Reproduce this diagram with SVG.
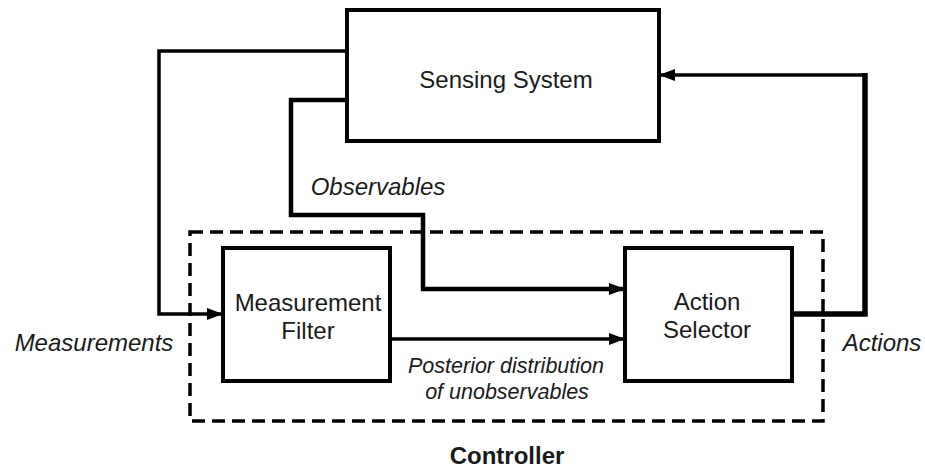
<svg xmlns="http://www.w3.org/2000/svg" width="925" height="470" viewBox="0 0 925 470">
<defs>
<style>
.box{fill:#fff;stroke:#000;stroke-width:4}
.t{font-family:"Liberation Sans",Arial,sans-serif;font-size:24px;fill:#1a1a1a;text-anchor:middle}
.i{font-style:italic}
.b{font-weight:bold}
.ln{fill:none;stroke:#000;stroke-linejoin:miter}
</style>
<marker id="ah" markerUnits="userSpaceOnUse" markerWidth="18" markerHeight="14" refX="16" refY="6" orient="auto">
<path d="M0,0 L16,6 L0,12 Z" fill="#000"/>
</marker>
</defs>
<g id="controller">
<rect x="190" y="232" width="633" height="189" fill="none" stroke="#000" stroke-width="3.5" stroke-dasharray="13,7"/>
<text class="t b" x="507" y="464">Controller</text>
</g>
<g id="connectors">
<path class="ln" stroke-width="3.5" d="M347,51 H159 V314 H223" marker-end="url(#ah)"/>
<path class="ln" stroke-width="4.5" d="M347,100 H291 V215 H423 V289 H625" marker-end="url(#ah)"/>
<path class="ln" stroke-width="3.5" d="M390,339 H625" marker-end="url(#ah)"/>
<path class="ln" stroke-width="5.5" d="M792,314 H865 V73"/>
<path class="ln" stroke-width="3.5" d="M867,75 H659" marker-end="url(#ah)"/>
<text class="t i" x="378" y="195">Observables</text>
<text class="t i" x="94" y="351">Measurements</text>
<text class="t i" x="882" y="351">Actions</text>
<text class="t i" x="506" y="373" style="font-size:21.5px">Posterior distribution</text>
<text class="t i" x="507" y="399" style="font-size:21.5px">of unobservables</text>
</g>
<g id="sensing">
<rect class="box" x="347" y="10" width="312" height="131"/>
<text class="t" x="506" y="88">Sensing System</text>
</g>
<g id="filter">
<rect class="box" x="223" y="248" width="167" height="133"/>
<text class="t" x="308" y="311">Measurement</text>
<text class="t" x="308" y="339">Filter</text>
</g>
<g id="selector">
<rect class="box" x="625" y="248" width="167" height="133"/>
<text class="t" x="707" y="310">Action</text>
<text class="t" x="707" y="338">Selector</text>
</g>
</svg>
